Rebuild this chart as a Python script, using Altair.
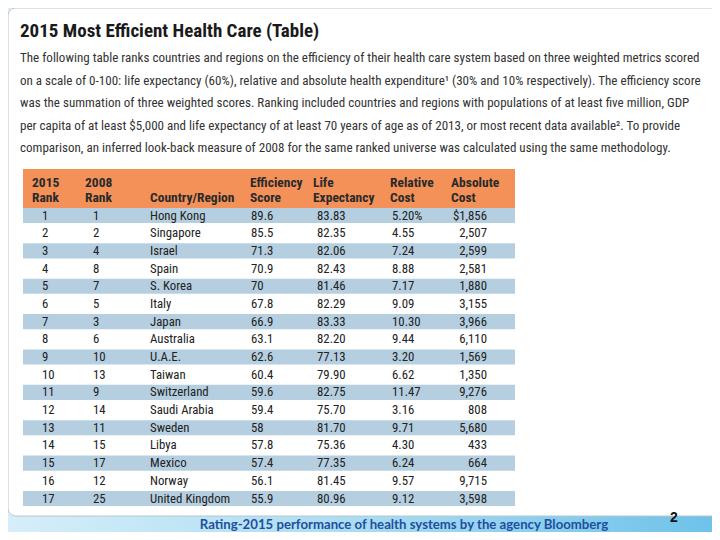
import altair as alt
import pandas as pd

# ---------------- data ----------------
rank_2015 = [1, 2, 3, 4, 5, 6, 7, 8, 9, 10, 11, 12, 13, 14, 15, 16, 17]
rank_2008 = [1, 2, 4, 8, 7, 5, 3, 6, 10, 13, 9, 14, 11, 15, 17, 12, 25]
countries = ["Hong Kong", "Singapore", "Israel", "Spain", "S. Korea", "Italy", "Japan",
             "Australia", "U.A.E.", "Taiwan", "Switzerland", "Saudi Arabia", "Sweden",
             "Libya", "Mexico", "Norway", "United Kingdom"]
efficiency = [89.6, 85.5, 71.3, 70.9, 70, 67.8, 66.9, 63.1, 62.6, 60.4, 59.6, 59.4, 58,
              57.8, 57.4, 56.1, 55.9]
life_expectancy = [83.83, 82.35, 82.06, 82.43, 81.46, 82.29, 83.33, 82.20, 77.13, 79.90,
                   82.75, 75.70, 81.70, 75.36, 77.35, 81.45, 80.96]
relative_cost = [5.20, 4.55, 7.24, 8.88, 7.17, 9.09, 10.30, 9.44, 3.20, 6.62, 11.47, 3.16,
                 9.71, 4.30, 6.24, 9.57, 9.12]
absolute_cost = [1856, 2507, 2599, 2581, 1880, 3155, 3966, 6110, 1569, 1350, 9276, 808,
                 5680, 433, 664, 9715, 3598]

headers = [["2015", "Rank"], ["2008", "Rank"], ["", "Country/Region"],
           ["Efficiency", "Score"], ["Life", "Expectancy"], ["Relative", "Cost"],
           ["Absolute", "Cost"]]

title = "2015 Most Efficient Health Care (Table)"
paragraph = [
    "The following table ranks countries and regions on the efficiency of their health care system based on three weighted metrics scored",
    "on a scale of 0-100: life expectancy (60%), relative and absolute health expenditure\u00b9 (30% and 10% respectively).  The efficiency score",
    "was the summation of three weighted scores. Ranking included countries and regions with populations of at least five million, GDP",
    "per capita of at least $5,000 and life expectancy of at least 70 years of age as of 2013, or most recent data available\u00b2. To provide",
    "comparison, an inferred look-back measure of 2008 for the same ranked universe was calculated using the same methodology.",
]
caption = "Rating-2015 performance of health systems by the agency Bloomberg"
page_no = "2"

# ---------------- table frame ----------------
n = len(countries)
df = pd.DataFrame({
    "row": list(range(1, n + 1)),
    "r15": [str(v) for v in rank_2015],
    "r08": [str(v) for v in rank_2008],
    "country": countries,
    "eff": [f"{v:g}" for v in efficiency],
    "life": [f"{v:.2f}" for v in life_expectancy],
    "rel": [f"{v:.2f}" + ("%" if i == 0 else "") for i, v in enumerate(relative_cost)],
    "abs": [("$" if i == 0 else "") + f"{v:,}" for i, v in enumerate(absolute_cost)],
})

W, H = 704, 524
NARROW = "Liberation Sans Narrow, Arial Narrow, Roboto Condensed, DejaVu Sans Condensed, Liberation Sans, sans-serif"
TXT = "#222222"

yscale = alt.Scale(domain=[1, n], range=[207.5, 490.5], zero=False, nice=False)
one = pd.DataFrame({"a": [0]})

layers = []

# background gradient
layers.append(alt.Chart(one).mark_rect(
    color=alt.Gradient(gradient="linear",
                       stops=[alt.GradientStop(color="#d6eef9", offset=0),
                              alt.GradientStop(color="#a9dcf2", offset=0.5),
                              alt.GradientStop(color="#6fc2ea", offset=1)],
                       x1=0, x2=1, y1=0, y2=0)
).encode(x=alt.value(0), x2=alt.value(W), y=alt.value(0), y2=alt.value(H)))

# white panel
layers.append(alt.Chart(one).mark_rect(
    color="white", stroke="#b9c6cf", strokeWidth=1, cornerRadius=8
).encode(x=alt.value(0), x2=alt.value(W + 12), y=alt.value(0), y2=alt.value(508)))

# header band
layers.append(alt.Chart(one).mark_rect(color="#f39159").encode(
    x=alt.value(15), x2=alt.value(507), y=alt.value(161), y2=alt.value(200)))

# stripes on odd rows
layers.append(alt.Chart(df).transform_filter("datum.row % 2 == 1").transform_calculate(
    y0="datum.row - 0.43", y1="datum.row + 0.43"
).mark_rect(color="#b5cfe1").encode(
    x=alt.value(15), x2=alt.value(507),
    y=alt.Y("y0:Q", scale=yscale, axis=None), y2="y1:Q"))

# cell text
cell_cols = ["r15", "r08", "country", "eff", "life", "rel", "abs"]
cell_x = [34, 85, 142, 243, 309, 384, 479]
for c, px in zip(cell_cols, cell_x):
    layers.append(alt.Chart(df).mark_text(
        align="right" if c == "abs" else "left", baseline="middle",
        font=NARROW, fontSize=12.8, color=TXT
    ).encode(x=alt.value(px), y=alt.Y("row:Q", scale=yscale, axis=None),
             text=alt.Text(f"{c}:N")))

# header text
head_x = [24, 77, 142, 242, 305, 382, 443]
for h, px in zip(headers, head_x):
    layers.append(alt.Chart(one).mark_text(
        text=h, align="left", baseline="alphabetic", lineHeight=15,
        font=NARROW, fontSize=13.5, fontWeight="bold", color="#2a2a2a"
    ).encode(x=alt.value(px), y=alt.value(179)))

# title
layers.append(alt.Chart(one).mark_text(
    text=title, align="left", baseline="alphabetic",
    font=NARROW, fontSize=19, fontWeight="bold", color="#1a1a1a"
).encode(x=alt.value(12), y=alt.value(29)))

# paragraph
layers.append(alt.Chart(one).mark_text(
    text=paragraph, align="left", baseline="alphabetic", lineHeight=22.5,
    font=NARROW, fontSize=13.05, color="#333333"
).encode(x=alt.value(12), y=alt.value(54)))

# caption
layers.append(alt.Chart(one).mark_text(
    text=caption, align="center", baseline="middle",
    font="Lato, Open Sans, sans-serif", fontSize=13.2, fontWeight="bold", color="#1f4f9e"
).encode(x=alt.value(396), y=alt.value(517)))

# page number
layers.append(alt.Chart(one).mark_text(
    text=page_no, align="center", baseline="middle",
    font="Liberation Sans, sans-serif", fontSize=14, fontWeight="bold", color="#111111"
).encode(x=alt.value(666), y=alt.value(510)))

chart = alt.layer(*layers).resolve_scale(y="independent").properties(
    width=W, height=H, padding=0, autosize=alt.AutoSizeParams(type="none")
).configure_view(stroke=None)

chart.save("out.html", embed_options={"renderer": "svg", "actions": False})
